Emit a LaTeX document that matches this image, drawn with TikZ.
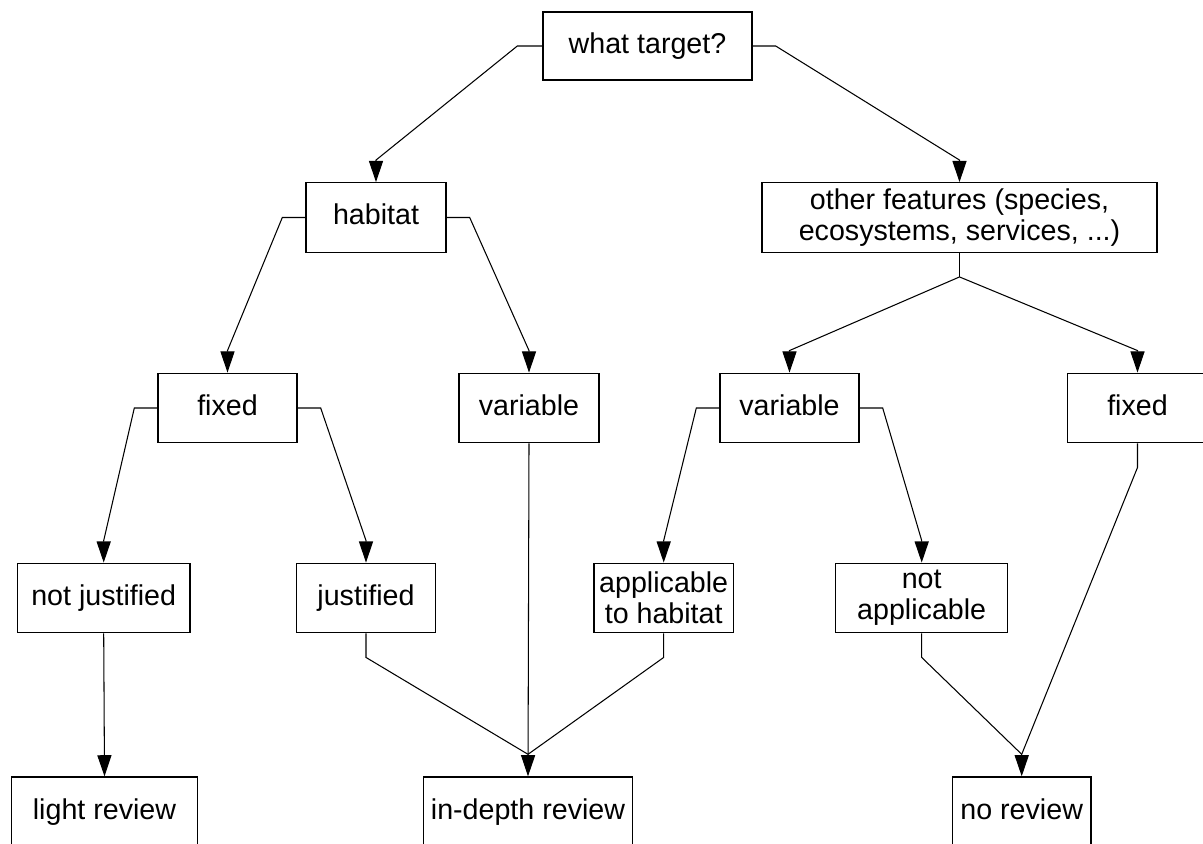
\documentclass[tikz,border=0pt]{standalone}
\usepackage{fontspec}
\setmainfont{Liberation Sans}
\usetikzlibrary{arrows.meta}
\begin{document}
\begin{tikzpicture}[x=0.02cm, y=0.02cm]
\tikzstyle{every node}+=[inner sep=0pt]
\tikzstyle{revbox}=[draw=black, line width=0.8pt, minimum height=1.39cm, align=center, font=\fontsize{16.3}{17.5}\selectfont]
\tikzstyle{oneline}=[revbox, text height=11.9pt, text depth=3.4pt]
\tikzstyle{link}=[black, line width=0.6pt]
\tikzstyle{arr}=[link, -{Triangle[length=12pt,width=8pt]}]
\fill [white] (0,0) rectangle (1203,-844);
\useasboundingbox (0,0) rectangle (1203,-844);
% boxes
\node [oneline, minimum width=4.18cm, minimum height=1.36cm] (target) at (647.5,-46) {what target?};
\node [oneline, minimum width=2.8cm] (habitat) at (376,-217.5) {habitat};
\node [revbox, minimum width=7.9cm] (other) at (959.5,-217.5) {other features (species,\\ecosystems, services, ...)};
\node [oneline, minimum width=2.78cm] (fixA) at (227.5,-408) {fixed};
\node [oneline, minimum width=2.8cm] (varA) at (529,-408) {variable};
\node [oneline, minimum width=2.78cm] (varB) at (789.5,-408) {variable};
\node [oneline, minimum width=2.8cm] (fixB) at (1137.5,-408) {fixed};
\node [oneline, minimum width=3.46cm] (notjust) at (103.7,-598) {not justified};
\node [oneline, minimum width=2.77cm] (just) at (366,-598) {justified};
\node [revbox, minimum width=2.79cm] (applic) at (663.7,-598) {applicable\\to habitat};
\node [revbox, minimum width=3.44cm] (notapp) at (921.7,-598) {not\\applicable};
\node [oneline, minimum width=3.71cm, minimum height=1.4cm] (light) at (104.5,-812) {light review};
\node [oneline, minimum width=4.19cm, minimum height=1.4cm] (indepth) at (528,-812) {in-depth review};
\node [oneline, minimum width=2.77cm, minimum height=1.4cm] (noreview) at (1021.7,-812) {no review};
\coordinate (mergeA) at ([yshift=0.44cm]indepth.north);
\coordinate (mergeB) at ([yshift=0.44cm]noreview.north);
\coordinate (split) at ([yshift=-0.48cm]other.south);
% connectors
\draw [arr] (target.west) -- ++(-25,0) -- ([yshift=0.44cm]habitat.north) -- (habitat.north);
\draw [arr] (target.east) -- ++(23,0) -- ([yshift=0.44cm]other.north) -- (other.north);
\draw [arr] (habitat.west) -- ++(-23,0) -- ([yshift=0.44cm]fixA.north) -- (fixA.north);
\draw [arr] (habitat.east) -- ++(23,0) -- ([yshift=0.44cm]varA.north) -- (varA.north);
\draw [link] (other.south) -- (split);
\draw [arr] (split) -- ([yshift=0.44cm]varB.north) -- (varB.north);
\draw [arr] (split) -- ([yshift=0.44cm]fixB.north) -- (fixB.north);
\draw [arr] (fixA.west) -- ++(-23,0) -- ([yshift=0.44cm]notjust.north) -- (notjust.north);
\draw [arr] (fixA.east) -- ++(23,0) -- ([yshift=0.44cm]just.north) -- (just.north);
\draw [arr] (varB.west) -- ++(-23,0) -- ([yshift=0.44cm]applic.north) -- (applic.north);
\draw [arr] (varB.east) -- ++(23,0) -- ([yshift=0.44cm]notapp.north) -- (notapp.north);
\draw [arr] (varA.south) -- (indepth.north);
\draw [arr] (notjust.south) -- (light.north);
\draw [link] (just.south) -- ++(0,-24) -- (mergeA);
\draw [link] (applic.south) -- ++(0,-24) -- (mergeA);
\draw [link] (notapp.south) -- ++(0,-24) -- (mergeB);
\draw [arr] (fixB.south) -- ++(0,-24) -- (mergeB) -- (noreview.north);
\end{tikzpicture}
\end{document}
